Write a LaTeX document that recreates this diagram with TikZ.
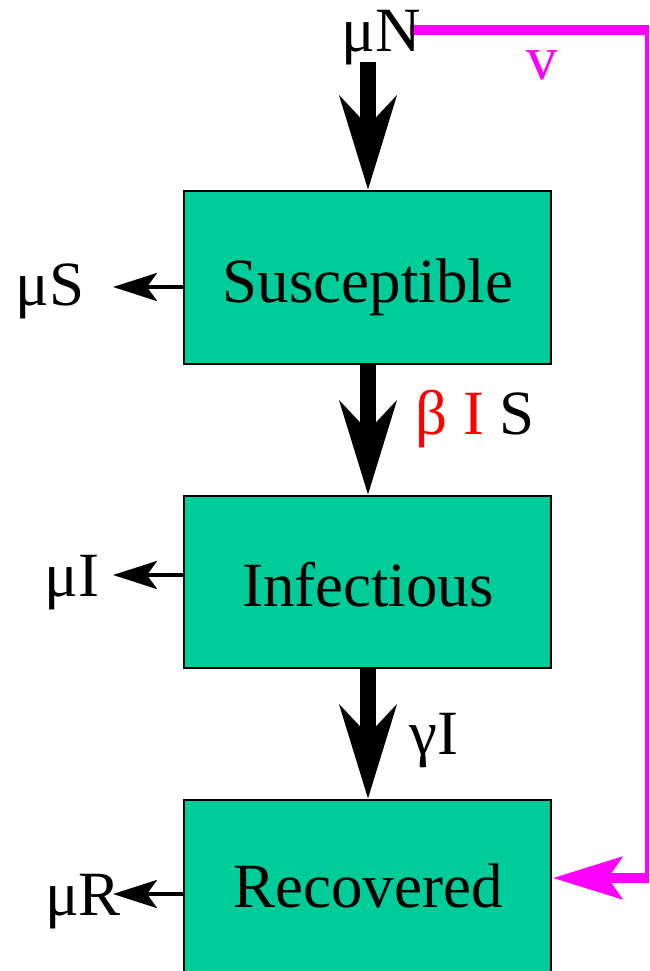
\documentclass[tikz,border=0pt]{standalone}
\usepackage{fontspec}
\setmainfont{Liberation Serif}
\usetikzlibrary{arrows.meta}
\definecolor{boxgreen}{HTML}{00CC99}
\definecolor{mag}{HTML}{FF00FF}
\definecolor{bred}{HTML}{FF0000}
\tikzset{
  compbox/.style={draw=black, line width=2pt, fill=boxgreen, minimum width=367pt, inner sep=0pt, font=\fontsize{63}{70}\selectfont},
  lbl/.style={anchor=base, inner sep=0pt, font=\fontsize{63}{70}\selectfont},
  bigarrow/.style={line width=16pt, -{Stealth[length=93pt,width=56pt,inset=29pt]}},
  smallarrow/.style={line width=4pt, -{Stealth[length=44pt,width=28pt,inset=10pt]}},
  magline/.style={draw=mag, line width=10pt},
  magarrow/.style={draw=mag, line width=10pt, -{Stealth[length=69pt,width=42pt,inset=14pt]}},
}
\begin{document}
\begin{tikzpicture}[x=1pt,y=-1pt]
\useasboundingbox (0,0) rectangle (650,971);
\clip (0,0) rectangle (650,971);
% boxes
\node[compbox, minimum height=173pt] (S) at (367.5,277.5) {};
\node[compbox, minimum height=172pt] (I) at (367.5,582) {};
\node[compbox, minimum height=176pt] (R) at (367.5,888) {};
\node[lbl] (St) at (368,302) {Susceptible};
\node[lbl] (It) at (368,606) {Infectious};
\node[lbl] (Rt) at (368,907) {Recovered};
% magenta feedback
\coordinate (m0) at (410,30);
\coordinate (m1) at (649,30);
\coordinate (m2) at (647,25);
\coordinate (m3) at (647,883);
\coordinate (m4) at (649,878);
\coordinate (m5) at (553,878);
\draw[magline] (m0) -- (m1);
\draw[draw=mag, line width=4pt] (m2) -- (m3);
\draw[magarrow] (m4) -- (m5);
\node[lbl, text=mag] (v) at (542,80) {v};
% top inflow
\node[lbl] (muN) at (381,52) {μN};
\coordinate (a0) at (368,62);
\draw[bigarrow] (a0) -- (a0 |- S.north);
% transitions
\coordinate (a1) at (368,365);
\draw[bigarrow] (a1) -- (a1 |- I.north);
\coordinate (a2) at (368,669);
\draw[bigarrow] (a2) -- (a2 |- R.north);
\node[lbl] (bIS) at (475,434) {\textcolor{bred}{β I} S};
\node[lbl] (gI) at (434,754) {γI};
% deaths
\coordinate (dS) at (113,287);
\draw[smallarrow] (S.west |- dS) -- (dS);
\node[lbl] (muS) at (50,305) {μS};
\coordinate (dI) at (113,575);
\draw[smallarrow] (I.west |- dI) -- (dI);
\node[lbl] (muI) at (72,596) {μI};
\coordinate (dR) at (113,894);
\draw[smallarrow] (R.west |- dR) -- (dR);
\node[lbl] (muR) at (83,915) {μR};
\end{tikzpicture}
\end{document}
